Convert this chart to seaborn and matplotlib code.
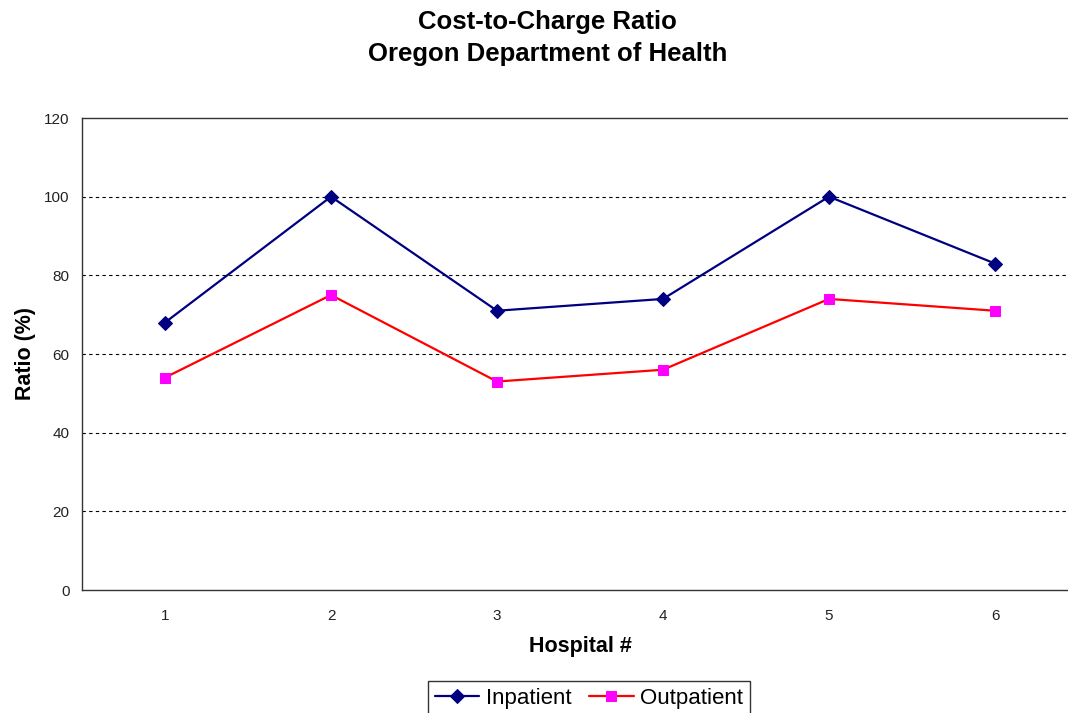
import matplotlib

matplotlib.use("Agg")

import matplotlib.pyplot as plt
import pandas as pd
import seaborn as sns
from matplotlib.ticker import FixedLocator

hospitals = [1, 2, 3, 4, 5, 6]
inpatient = [68, 100, 71, 74, 100, 83]
outpatient = [54, 75, 53, 56, 74, 71]

df = pd.DataFrame({"Hospital": hospitals, "Inpatient": inpatient, "Outpatient": outpatient})

sns.set_style("white")
plt.rcParams['font.family'] = ['Liberation Sans', 'DejaVu Sans']
plt.rcParams['text.color'] = 'black'
plt.rcParams['axes.labelcolor'] = 'black'

fig = plt.figure(figsize=(10.68, 7.13), dpi=100)
ax = fig.add_axes([82 / 1068, 123 / 713, 996 / 1068, 472 / 713])

sns.lineplot(data=df, x="Hospital", y="Inpatient", ax=ax, color="#000080",
             linewidth=1.6, marker="D", markersize=7, markeredgecolor="#000080",
             markerfacecolor="#000080", label="Inpatient")
sns.lineplot(data=df, x="Hospital", y="Outpatient", ax=ax, color="#FF0000",
             linewidth=1.6, marker="s", markersize=7.5, markeredgecolor="#FF00FF",
             markerfacecolor="#FF00FF", label="Outpatient")

ax.set_xlim(0.5, 6.5)
ax.set_ylim(0, 120)
ax.set_yticks(range(0, 121, 20))
ax.set_xticks(hospitals)
ax.set_xticklabels([str(h) for h in hospitals])
ax.xaxis.set_minor_locator(FixedLocator([1.5, 2.5, 3.5, 4.5, 5.5]))
ax.tick_params(axis="x", which="major", length=0, pad=14, labelsize=11, colors="#222222")
ax.tick_params(axis="x", which="minor", length=4, width=1, direction="out", color="black")
ax.tick_params(axis="y", which="major", length=5, width=1, direction="out",
               labelsize=11, colors="black", pad=4)
for lbl in ax.get_yticklabels():
    lbl.set_color("#222222")

for y in [20, 40, 60, 80, 100]:
    ax.axhline(y, color="black", linewidth=0.8, linestyle=(0, (3, 3)), zorder=0)

for side in ["left", "bottom", "top"]:
    ax.spines[side].set_color("#333333")
    ax.spines[side].set_linewidth(1)
ax.spines["right"].set_visible(False)

ax.set_xlabel("Hospital #", fontsize=15.5, fontweight="bold", labelpad=9)
ax.set_ylabel("Ratio (%)", fontsize=15.5, fontweight="bold", labelpad=6)

fig.text(0.513, 1 - 22 / 713, "Cost-to-Charge Ratio",
         ha="center", va="center", fontsize=18.5, fontweight="bold")
fig.text(0.513, 1 - 54 / 713, "Oregon Department of Health",
         ha="center", va="center", fontsize=18.5, fontweight="bold")

ax.get_legend().remove()
handles, labels = ax.get_legend_handles_labels()
leg = fig.legend(handles, labels, loc="upper center", bbox_to_anchor=(589 / 1068, 1 - 681 / 713),
                 ncol=2, fontsize=16, frameon=True, fancybox=False, edgecolor="black",
                 borderpad=0.3, borderaxespad=0, columnspacing=0.8, handlelength=2.0,
                 handletextpad=0.3)
leg.get_frame().set_linewidth(1)

plt.savefig("out.png", dpi=100)
plt.close()
